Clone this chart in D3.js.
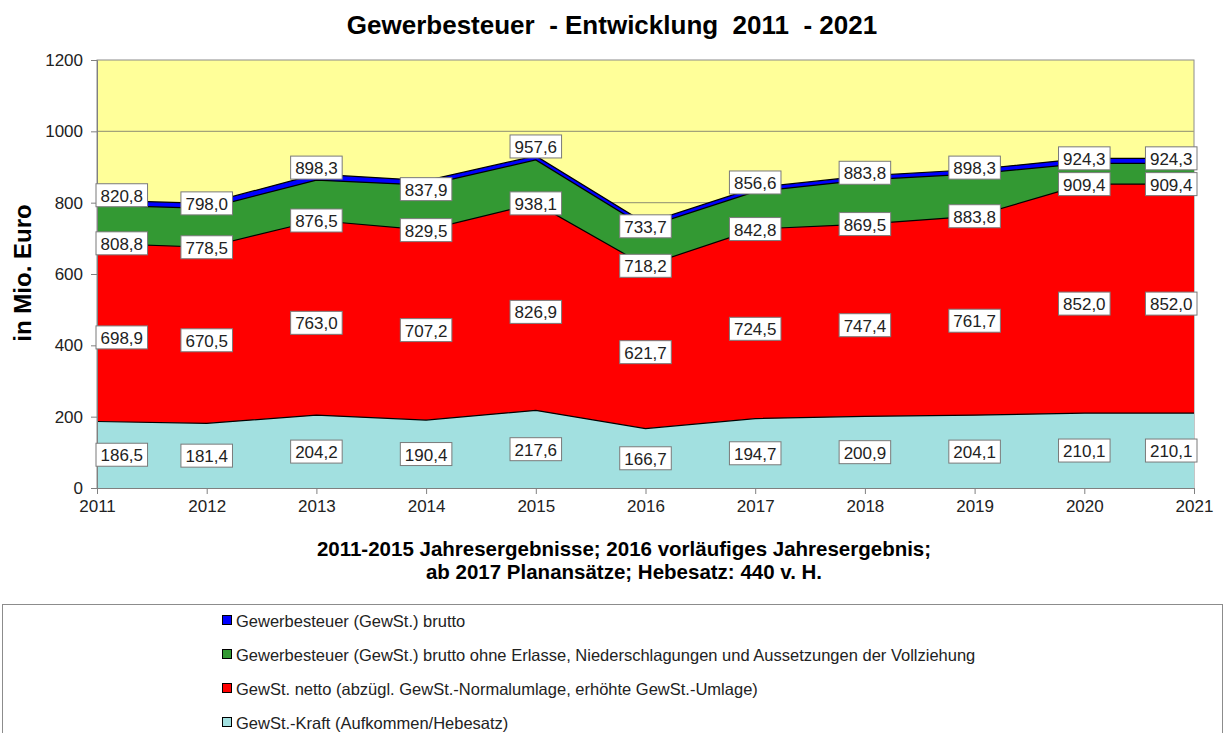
<!DOCTYPE html>
<html>
<head>
<meta charset="utf-8">
<script src="https://cdnjs.cloudflare.com/ajax/libs/d3/7.8.5/d3.min.js"></script>
<style>
  body { margin: 0; background: #fff; }
  text { font-family: Arial, "Liberation Sans", sans-serif; }
</style>
</head>
<body>
<div id="chart"></div>
<script>
var years = [2011, 2012, 2013, 2014, 2015, 2016, 2017, 2018, 2019, 2020, 2021];
var yTicks = [0, 200, 400, 600, 800, 1000, 1200];

// plotted tops of the (overlapping) areas
var brutto = [807, 798, 880, 862, 931, 742, 842, 875, 893, 924, 924];
var ohneErlasse = [793, 784, 863, 849, 920, 731, 831, 864, 881, 910, 910];
var netto = [686, 675, 750, 723, 798, 623, 726, 740, 762, 852, 852];
var kraft = [186.5, 181.4, 204.2, 190.4, 217.6, 166.7, 194.7, 200.9, 204.1, 210.1, 210.1];

// printed data labels
var bruttoLabels = [820.8, 798.0, 898.3, 837.9, 957.6, 733.7, 856.6, 883.8, 898.3, 924.3, 924.3];
var ohneLabels = [808.8, 778.5, 876.5, 829.5, 938.1, 718.2, 842.8, 869.5, 883.8, 909.4, 909.4];
var nettoLabels = [698.9, 670.5, 763.0, 707.2, 826.9, 621.7, 724.5, 747.4, 761.7, 852.0, 852.0];
var kraftLabels = kraft;

var legendNames = [
    'Gewerbesteuer (GewSt.) brutto',
    'Gewerbesteuer (GewSt.) brutto ohne Erlasse, Niederschlagungen und Aussetzungen der Vollziehung',
    'GewSt. netto (abzügl. GewSt.-Normalumlage, erhöhte GewSt.-Umlage)',
    'GewSt.-Kraft (Aufkommen/Hebesatz)'
];
var colors = ['#0000ff', '#339933', '#ff0000', '#a2e0e0'];

var W = 1226, H = 733;
var margin = {top: 60, left: 97, right: 32, bottom: 245};
var width = W - margin.left - margin.right,
    height = H - margin.top - margin.bottom;

var svg = d3.select('#chart').append('svg')
    .attr('width', W)
    .attr('height', H);

svg.append('rect').attr('width', W).attr('height', H).attr('fill', '#fff');

var xScale = d3.scaleLinear()
    .domain([years[0], years[years.length - 1]])
    .range([0, width]);

var yScale = d3.scaleLinear()
    .domain([0, 1200])
    .range([height, 0]);

var g = svg.append('g')
    .attr('transform', `translate(${margin.left}, ${margin.top})`);

// plot background
g.append('rect')
    .attr('width', width)
    .attr('height', height)
    .attr('fill', '#ffff99')
    .attr('stroke', '#8c8c8c');

// grid lines
g.selectAll('.grid')
    .data(yTicks.slice(1, -1))
    .enter().append('line')
    .attr('x1', 0).attr('x2', width)
    .attr('y1', d => yScale(d)).attr('y2', d => yScale(d))
    .attr('stroke', '#a3a37a')
    .attr('stroke-width', 1.2);

var series = [brutto, ohneErlasse, netto, kraft];

series.forEach((data, index) => {
    var area = d3.area()
        .x((d, i) => xScale(years[i]))
        .y0(yScale(0))
        .y1(d => yScale(d));
    var line = d3.line()
        .x((d, i) => xScale(years[i]))
        .y(d => yScale(d));

    g.append('path')
        .datum(data)
        .attr('d', area)
        .attr('fill', colors[index]);

    g.append('path')
        .datum(data)
        .attr('d', line)
        .attr('fill', 'none')
        .attr('stroke', '#000')
        .attr('stroke-width', 1.2);
});

// axes
var yAxis = d3.axisLeft(yScale)
    .tickValues(yTicks)
    .tickFormat(d3.format('d'))
    .tickSize(6)
    .tickPadding(8);

g.append('g')
    .call(yAxis)
    .call(a => a.select('.domain').attr('stroke', '#808080'))
    .call(a => a.selectAll('.tick line').attr('stroke', '#808080'))
    .call(a => a.selectAll('.tick text')
        .attr('font-size', 17)
        .attr('fill', '#222'));

var xAxis = d3.axisBottom(xScale)
    .tickValues(years)
    .tickFormat(d3.format('d'))
    .tickSize(6)
    .tickPadding(6);

g.append('g')
    .attr('transform', `translate(0, ${height})`)
    .call(xAxis)
    .call(a => a.select('.domain').attr('stroke', '#808080'))
    .call(a => a.selectAll('.tick line').attr('stroke', '#808080'))
    .call(a => a.selectAll('.tick text')
        .attr('font-size', 17)
        .attr('fill', '#222'));

// data labels
var fmt = v => d3.format('.1f')(v).replace('.', ',');

function addLabels(values, yOf) {
    values.forEach((v, i) => {
        var lg = g.append('g');
        var t = lg.append('text')
            .attr('text-anchor', 'middle')
            .attr('dominant-baseline', 'central')
            .attr('font-size', 17)
            .attr('fill', '#222')
            .text(fmt(v));
        var tw = t.node().getComputedTextLength();
        var bw = tw + 9, bh = 23;
        var cx = xScale(years[i]);
        cx = Math.max(cx, -1 + bw / 2);
        cx = Math.min(cx, width + 3 - bw / 2);
        var cy = yOf(i);
        lg.insert('rect', 'text')
            .attr('x', cx - bw / 2)
            .attr('y', cy - bh / 2)
            .attr('width', bw)
            .attr('height', bh)
            .attr('fill', '#fff')
            .attr('stroke', '#7a7a7a');
        t.attr('x', cx).attr('y', cy + 1);
    });
}

addLabels(kraftLabels, i => yScale(kraft[i] / 2));
addLabels(nettoLabels, i => yScale((kraft[i] + netto[i]) / 2) + 5);
addLabels(ohneLabels, i => yScale(netto[i]));
addLabels(bruttoLabels, i => yScale(bruttoLabels[i]));

// titles
svg.append('text')
    .attr('x', 612)
    .attr('y', 34)
    .attr('text-anchor', 'middle')
    .attr('font-size', 26)
    .attr('font-weight', 'bold')
    .style('white-space', 'pre')
    .text('Gewerbesteuer  - Entwicklung  2011  - 2021');

svg.append('text')
    .attr('transform', 'translate(31, 273) rotate(-90)')
    .attr('text-anchor', 'middle')
    .attr('font-size', 24)
    .attr('font-weight', 'bold')
    .text('in Mio. Euro');

svg.append('text')
    .attr('x', 624)
    .attr('y', 556)
    .attr('text-anchor', 'middle')
    .attr('font-size', 20.5)
    .attr('font-weight', 'bold')
    .text('2011-2015 Jahresergebnisse; 2016 vorläufiges Jahresergebnis;');

svg.append('text')
    .attr('x', 624)
    .attr('y', 579)
    .attr('text-anchor', 'middle')
    .attr('font-size', 20.5)
    .attr('font-weight', 'bold')
    .text('ab 2017 Planansätze; Hebesatz: 440 v. H.');

// legend
svg.append('rect')
    .attr('x', 2.5)
    .attr('y', 604.5)
    .attr('width', 1220)
    .attr('height', 140)
    .attr('fill', '#fff')
    .attr('stroke', '#8c8c8c');

var legend = svg.selectAll('.legend')
    .data(legendNames)
    .enter().append('g')
    .attr('class', 'legend')
    .attr('transform', (d, i) => `translate(222, ${620 + i * 34})`);

legend.append('rect')
    .attr('x', 0.5).attr('y', -4.5)
    .attr('width', 9).attr('height', 9)
    .attr('fill', (d, i) => colors[i])
    .attr('stroke', '#000');

legend.append('text')
    .attr('x', 14)
    .attr('y', 1)
    .attr('dominant-baseline', 'central')
    .attr('font-size', 16.5)
    .attr('fill', '#222')
    .text(d => d);
</script>
</body>
</html>
